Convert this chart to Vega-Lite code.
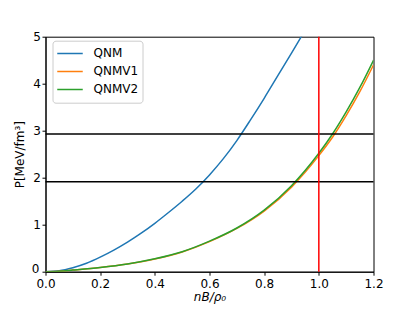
{
  "$schema": "https://vega.github.io/schema/vega-lite/v6.json",
  "autosize": {"type": "none"},
  "width": 328,
  "height": 235,
  "padding": {"left": 45.5, "top": 36.7, "right": 41.5, "bottom": 37.3},
  "background": "white",
  "config": {
    "view": {"stroke": "black", "strokeWidth": 1},
    "font": "DejaVu Sans",
    "axis": {
      "grid": false,
      "domainColor": "black",
      "tickColor": "black",
      "tickSize": 3.5,
      "labelFontSize": 12,
      "labelColor": "black",
      "labelFlush": false,
      "titleFontSize": 12,
      "titleFontWeight": "normal",
      "titleColor": "black",
      "labelPadding": 1.5
    }
  },
  "datasets": {
    "curves": [
      {"x": 0.0, "P": 0.0, "s": "QNM"},
      {"x": 0.05, "P": 0.02, "s": "QNM"},
      {"x": 0.1, "P": 0.085, "s": "QNM"},
      {"x": 0.15, "P": 0.18, "s": "QNM"},
      {"x": 0.2, "P": 0.31, "s": "QNM"},
      {"x": 0.25, "P": 0.46, "s": "QNM"},
      {"x": 0.3, "P": 0.63, "s": "QNM"},
      {"x": 0.35, "P": 0.82, "s": "QNM"},
      {"x": 0.4, "P": 1.03, "s": "QNM"},
      {"x": 0.45, "P": 1.26, "s": "QNM"},
      {"x": 0.5, "P": 1.5, "s": "QNM"},
      {"x": 0.55, "P": 1.76, "s": "QNM"},
      {"x": 0.6, "P": 2.06, "s": "QNM"},
      {"x": 0.65, "P": 2.4, "s": "QNM"},
      {"x": 0.7, "P": 2.79, "s": "QNM"},
      {"x": 0.75, "P": 3.23, "s": "QNM"},
      {"x": 0.8, "P": 3.69, "s": "QNM"},
      {"x": 0.85, "P": 4.17, "s": "QNM"},
      {"x": 0.9, "P": 4.65, "s": "QNM"},
      {"x": 0.95, "P": 5.14, "s": "QNM"},
      {"x": 0.0, "P": 0.0, "s": "QNMV1"},
      {"x": 0.05, "P": 0.01, "s": "QNMV1"},
      {"x": 0.1, "P": 0.035, "s": "QNMV1"},
      {"x": 0.2, "P": 0.09, "s": "QNMV1"},
      {"x": 0.3, "P": 0.165, "s": "QNMV1"},
      {"x": 0.4, "P": 0.27, "s": "QNMV1"},
      {"x": 0.5, "P": 0.42, "s": "QNMV1"},
      {"x": 0.6, "P": 0.64, "s": "QNMV1"},
      {"x": 0.7, "P": 0.92, "s": "QNMV1"},
      {"x": 0.8, "P": 1.29, "s": "QNMV1"},
      {"x": 0.9, "P": 1.8, "s": "QNMV1"},
      {"x": 1.0, "P": 2.47, "s": "QNMV1"},
      {"x": 1.05, "P": 2.86, "s": "QNMV1"},
      {"x": 1.1, "P": 3.32, "s": "QNMV1"},
      {"x": 1.15, "P": 3.83, "s": "QNMV1"},
      {"x": 1.2, "P": 4.4, "s": "QNMV1"},
      {"x": 0.0, "P": 0.0, "s": "QNMV2"},
      {"x": 0.05, "P": 0.01, "s": "QNMV2"},
      {"x": 0.1, "P": 0.035, "s": "QNMV2"},
      {"x": 0.2, "P": 0.09, "s": "QNMV2"},
      {"x": 0.3, "P": 0.165, "s": "QNMV2"},
      {"x": 0.4, "P": 0.275, "s": "QNMV2"},
      {"x": 0.5, "P": 0.425, "s": "QNMV2"},
      {"x": 0.6, "P": 0.65, "s": "QNMV2"},
      {"x": 0.7, "P": 0.93, "s": "QNMV2"},
      {"x": 0.8, "P": 1.31, "s": "QNMV2"},
      {"x": 0.9, "P": 1.83, "s": "QNMV2"},
      {"x": 1.0, "P": 2.52, "s": "QNMV2"},
      {"x": 1.05, "P": 2.93, "s": "QNMV2"},
      {"x": 1.1, "P": 3.4, "s": "QNMV2"},
      {"x": 1.15, "P": 3.92, "s": "QNMV2"},
      {"x": 1.2, "P": 4.5, "s": "QNMV2"}
    ],
    "hlines": [{"P": 2.93}, {"P": 1.915}],
    "vlines": [{"x": 1.0}]
  },
  "layer": [
    {
      "data": {"name": "curves"},
      "mark": {"type": "line", "strokeWidth": 1.5, "interpolate": "monotone", "clip": true},
      "encoding": {
        "x": {
          "field": "x", "type": "quantitative",
          "scale": {"domain": [0, 1.2], "nice": false, "zero": false},
          "axis": {"values": [0, 0.2, 0.4, 0.6, 0.8, 1.0, 1.2], "format": ".1f", "title": "nB/ρ₀", "titleFontStyle": "italic", "titlePadding": 2, "labelPadding": 3}
        },
        "y": {
          "field": "P", "type": "quantitative",
          "scale": {"domain": [0, 5], "nice": false},
          "axis": {
            "values": [0, 1, 2, 3, 4, 5], "format": "d", "title": "P[MeV/fm³]", "titlePadding": 5,
            "labelOffset": {"condition": {"test": "datum.value == 0", "value": -3}, "value": 0},
            "labelPadding": {"condition": {"test": "datum.value == 0", "value": 3}, "value": 1.5}
          }
        },
        "color": {
          "field": "s", "type": "nominal",
          "scale": {"domain": ["QNM", "QNMV1", "QNMV2"], "range": ["#1f77b4", "#ff7f0e", "#2ca02c"]},
          "legend": {
            "title": null,
            "orient": "none",
            "legendX": 7,
            "legendY": 4,
            "symbolType": "stroke",
            "symbolSize": 650,
            "symbolStrokeWidth": 1.5,
            "labelFontSize": 12,
            "labelColor": "black",
            "labelOffset": 10,
            "rowPadding": 0,
            "clipHeight": 17.5,
            "padding": 4,
            "strokeColor": "#cccccc",
            "fillColor": "white",
            "cornerRadius": 3
          }
        },
        "order": {"field": "s"}
      }
    },
    {
      "data": {"name": "hlines"},
      "mark": {"type": "rule", "color": "black", "strokeWidth": 1.5},
      "encoding": {"y": {"field": "P", "type": "quantitative"}}
    },
    {
      "data": {"name": "vlines"},
      "mark": {"type": "rule", "color": "red", "strokeWidth": 1.5},
      "encoding": {"x": {"field": "x", "type": "quantitative"}}
    }
  ]
}
